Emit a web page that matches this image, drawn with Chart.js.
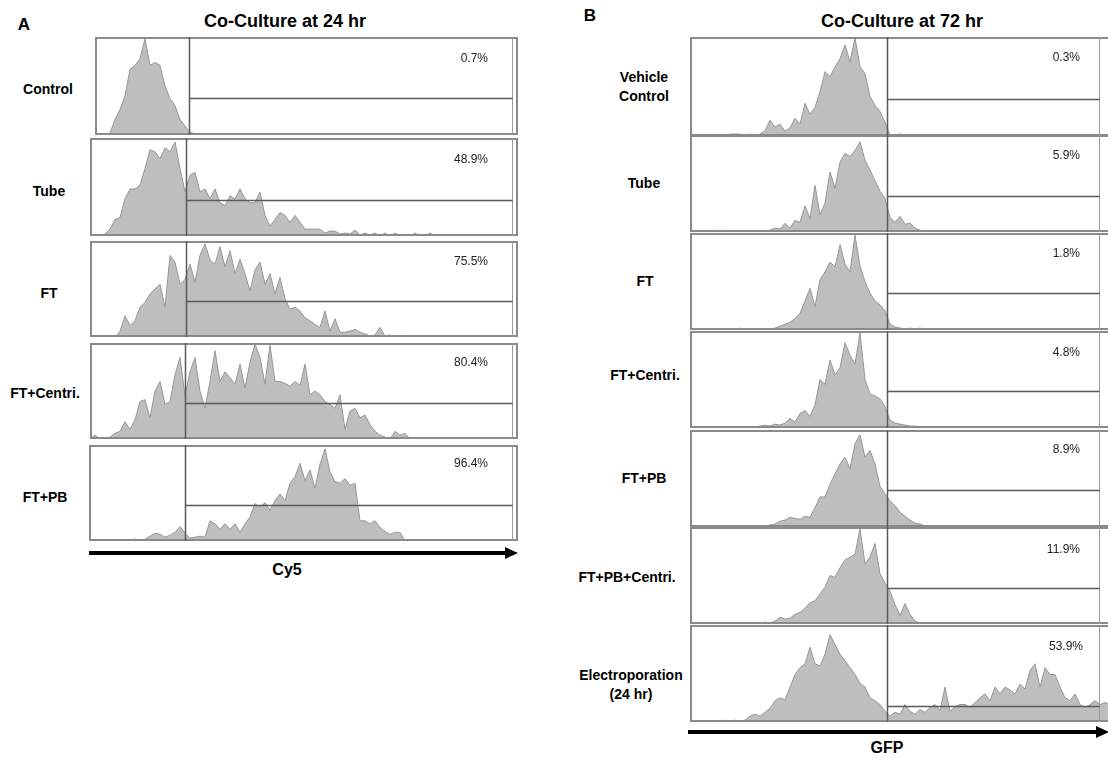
<!DOCTYPE html>
<html>
<head>
<meta charset="utf-8">
<script src="https://cdn.jsdelivr.net/npm/chart.js@4.4.1/dist/chart.umd.min.js"></script>
<style>
  html, body { margin: 0; padding: 0; background: #fff; }
  body { width: 1108px; height: 758px; position: relative; overflow: hidden;
         font-family: "Liberation Sans", Arial, sans-serif; color: #000; }
  .abs { position: absolute; white-space: nowrap; }
  .c { transform: translate(-50%, -50%); text-align: center; }
  .title { font-weight: bold; font-size: 18px; }
  .panel { font-weight: bold; font-size: 17px; }
  .row { font-weight: bold; font-size: 14px; line-height: 19px; }
  .pct { font-size: 12px; color: #222; transform: translate(-100%, -50%); }
  .axis { font-weight: bold; font-size: 16px; }
  canvas { position: absolute; }
</style>
</head>
<body>
<svg class="abs" style="left:0;top:0" width="1108" height="758">
  <line x1="89" y1="553" x2="508" y2="553" stroke="#000" stroke-width="4"/>
  <polygon points="505,547 518,553 505,559" fill="#000"/>
  <line x1="688" y1="732" x2="1099" y2="732" stroke="#000" stroke-width="4"/>
  <polygon points="1096,726 1109,732 1096,738" fill="#000"/>
</svg>
<script>
// ---- data: event counts per bin, % of the tallest peak ----
const labelsA = [["Control"], ["Tube"], ["FT"], ["FT+Centri."], ["FT+PB"]];
const pctA = ["0.7%", "48.9%", "75.5%", "80.4%", "96.4%"];

const cy5Control = [0,0,0,0,2,16,26,40,67,71,78,98,71,74,71,50,37,30,16,9,3,1,0];
const cy5Tube = [0,0,0,2,7,17,19,38,48,48, 52,69,88,86,79,90,86,96,69,45,
  62,65,45,48,38,48,34,31,41,38, 48,38,34,34,45,21,10,17,24,21,
  14,21,14,7,7,7,7,3,5,5, 2,3,2,6,1,3,1,3,0,3, 0,3,0,0,0,3,0,0,3,0];
const cy5FT = [0,0,1,0,1,0,6,22,12,17, 31,36,45,50,55,31,85,78,55,60,
  76,57,85,97,80,76,94,73,90,66, 81,66,48,70,78,55,66,45,62,40,
  29,31,27,20,17,13,10,27,6,19, 5,5,6,8,5,3,1,2,10,1,
  2,0,2,0,2,0,0,0,0,0, 0,0,0,0,0,0,0,2,0];
const cy5FTCentri = [0,4,0,0,2,6,8,18,10,20, 39,41,22,50,60,36,39,67,85,45,
  70,85,50,32,60,92,60,70,64,57, 78,53,80,99,85,57,98,60,60,58,
  55,60,56,78,46,50,46,39,36,32, 46,10,29,32,22,25,15,8,4,2, 0,8,4,6,0];
const cy5FTPB = [0,0,0,0,0,0,0,0,0,2, 0,2,5,8,7,4,6,9,15,8,
  3,4,5,4,21,18,12,18,12,18, 9,18,25,39,35,40,32,42,49,42,
  60,67,81,63,74,55,80,96,72,62, 60,65,58,60,21,21,18,21,14,10, 7,9,9,0];

const labelsB = [["Vehicle", "Control"], ["Tube"], ["FT"], ["FT+Centri."], ["FT+PB"],
  ["FT+PB+Centri."], ["Electroporation", "(24 hr)"]];
const pctB = ["0.3%", "5.9%", "1.8%", "4.8%", "8.9%", "11.9%", "53.9%"];

const gfpVehicle = [0,0,0,0,0,0,0,0,2,2, 2,0,2,0,2,5,16,9,12,5,
  8,18,12,33,22,29,45,65,60,70, 78,92,75,99,70,63,40,31,25,14, 1,0,2,1,0];
const gfpTube = [0,0,0,0,0,2,0,2,0,0, 0,0,0,0,1,0,2,4,3,9,
  4,12,10,27,14,48,18,30,62,45, 72,81,78,84,93,74,64,53,42,35, 15,10,16,8,9,4,2,0];
const gfpFT = [0,0,0,0,1,0,0,1,0,0, 2,0,0,1,0,1,0,2,4,6,
  8,12,17,30,43,24,52,60,70,65, 88,68,60,98,66,50,38,30,26,20, 6,3,2,1,2,1,2,0];
const gfpFTCentri = [0,0,0,0,0,1,0,0,0,0, 0,1,0,0,2,3,2,4,3,5,
  10,6,15,18,12,24,50,45,70,55, 62,88,75,66,98,50,35,33,30,22, 8,5,4,3,2,2,1,1,0,0, 1,0];
const gfpFTPB = [0,0,0,0,0,0,0,0,0,0, 0,0,1,0,0,1,2,3,6,7,
  10,9,8,11,10,20,31,31,44,55, 65,72,60,86,95,72,79,65,42,34, 27,22,15,11,7,4,3,1,1,0];
const gfpFTPBCentri = [0,0,0,1,0,1,0,0,0,0, 0,0,0,1,0,2,1,3,7,5,
  6,10,12,16,22,24,31,38,50,48, 58,66,69,72,98,62,69,83,52,42, 34,20,9,21,10,3,1,0];
const gfpElectro = [0,0,0,0,0,0,0,2,0,2, 0,2,6,8,6,10,14,22,25,23,
  36,49,56,60,77,60,58,70,90,80, 70,63,56,49,40,36,25,22,18,11,
  6,10,8,18,11,8,13,10,15,18, 12,36,11,16,18,18,15,20,25,29,
  22,36,29,36,33,29,39,34,53,60, 36,56,49,49,36,25,22,29,18,15, 18,22,18,20,18];

// gates, in bin units / % of peak
const gateA = [19.8, 19.1, 19.1, 19, 19];
const upperA = 84.4;
const levelA = [38, 37, 38, 38, 38];
const gateB = 39.4;
const upperB = 81.8;
const levelB = [37, 37, 38, 38, 38, 37, 17];

const histA = [cy5Control, cy5Tube, cy5FT, cy5FTCentri, cy5FTPB];
const histB = [gfpVehicle, gfpTube, gfpFT, gfpFTCentri, gfpFTPB, gfpFTPBCentri, gfpElectro];

// ---- layout ----
const BIN = 5;
const A0 = 90, B0 = 690;
const boxA = { left: [95, 90, 90, 90, 89], right: 518,
  top: [37, 138, 241, 343, 445], bottom: [134, 235, 336, 438, 540] };
const boxB = { left: 690, right: 1115,
  top: [37, 135, 233, 331, 430, 527, 625], bottom: [135, 231, 329, 427, 526, 623, 721] };

function esc(t) {
  return String(t ?? "").replace(/&/g, "&amp;").replace(/</g, "&lt;").replace(/>/g, "&gt;");
}

function addText(cls, lines, x, y) {
  const d = document.createElement("div");
  d.className = "abs " + cls;
  d.style.left = x + "px";
  d.style.top = y + "px";
  d.innerHTML = [].concat(lines).map(esc).join("<br>");
  document.body.appendChild(d);
}

const gatePlugin = {
  id: "gates",
  afterDatasetsDraw(chart, args, o) {
    const { ctx, chartArea: a, scales } = chart;
    const gx = Math.round(scales.x.getPixelForValue(o.gate)) + 0.5;
    const ux = Math.round(scales.x.getPixelForValue(o.upper)) + 0.5;
    const ly = Math.round(scales.y.getPixelForValue(o.level)) + 0.5;
    ctx.save();
    ctx.strokeStyle = "#8a8a8a";
    ctx.lineWidth = 2;
    ctx.strokeRect(a.left + 1, a.top + 1, a.right - a.left - 2, a.bottom - a.top - 2);
    ctx.strokeStyle = "#9a9a9a";
    ctx.lineWidth = 1;
    ctx.beginPath();
    ctx.moveTo(ux, a.top); ctx.lineTo(ux, a.bottom);
    ctx.stroke();
    ctx.strokeStyle = "#5a5a5a";
    ctx.lineWidth = 1.5;
    ctx.beginPath();
    ctx.moveTo(gx, a.top); ctx.lineTo(gx, a.bottom);
    ctx.moveTo(gx, ly); ctx.lineTo(ux, ly);
    ctx.stroke();
    ctx.restore();
  },
};

function drawHist(values, left, right, top, bottom, origin, gates) {
  const cv = document.createElement("canvas");
  cv.width = right - left;
  cv.height = bottom - top + 1;
  cv.style.left = left + "px";
  cv.style.top = top + "px";
  document.body.appendChild(cv);
  new Chart(cv, {
    type: "line",
    data: {
      datasets: [{
        data: values.map((v, i) => ({ x: i, y: v })),
        fill: "origin",
        backgroundColor: "#bebebe",
        borderColor: "#979797",
        borderWidth: 1,
        pointRadius: 0,
        tension: 0,
      }],
    },
    options: {
      responsive: false,
      animation: false,
      events: [],
      layout: { padding: 0 },
      plugins: { legend: { display: false }, tooltip: { enabled: false }, gates },
      scales: {
        x: { type: "linear", display: false, min: (left - origin) / BIN, max: (right - origin) / BIN },
        y: { display: false, min: 0, max: 100 },
      },
    },
    plugins: [gatePlugin],
  });
}

histA.forEach((h, i) => {
  drawHist(h, boxA.left[i], boxA.right, boxA.top[i], boxA.bottom[i], A0,
    { gate: gateA[i], upper: upperA, level: levelA[i] });
});
histB.forEach((h, i) => {
  drawHist(h, boxB.left, boxB.right, boxB.top[i], boxB.bottom[i], B0,
    { gate: gateB, upper: upperB, level: levelB[i] });
});

// ---- text ----
addText("panel c", "A", 24, 25);
addText("panel c", "B", 590, 16);
addText("title c", "Co-Culture at 24 hr", 285, 21);
addText("title c", "Co-Culture at 72 hr", 902, 21);
addText("axis c", "Cy5", 287, 570);
addText("axis c", "GFP", 887, 748);

const rowXA = [48, 49, 49, 45, 45];
const rowYA = [89, 191, 293, 393, 497];
labelsA.forEach((l, i) => addText("row c", l, rowXA[i], rowYA[i]));
const pctYA = [58, 159, 261, 362, 463];
pctA.forEach((p, i) => addText("pct", p, 488, pctYA[i]));

const rowXB = [644, 644, 645, 645, 644, 627, 631];
const rowYB = [87, 183, 281, 375, 478, 577, 685];
labelsB.forEach((l, i) => addText("row c", l, rowXB[i], rowYB[i]));
const pctYB = [57, 155, 253, 352, 449, 549, 646];
pctB.forEach((p, i) => addText("pct", p, i === 6 ? 1083 : 1080, pctYB[i]));
</script>
</body>
</html>
